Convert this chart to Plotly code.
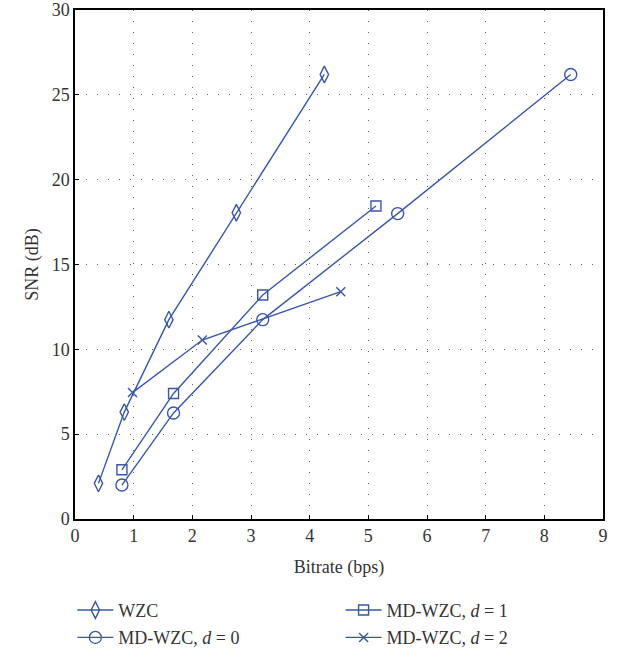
import plotly.graph_objects as go

wzc_x = [0.40, 0.84, 1.60, 2.75, 4.25]
wzc_y = [2.1, 6.3, 11.75, 18.05, 26.2]
d0_x = [0.80, 1.68, 3.20, 5.50, 8.45]
d0_y = [2.0, 6.25, 11.75, 18.0, 26.2]
d1_x = [0.80, 1.68, 3.20, 5.13]
d1_y = [2.9, 7.4, 13.2, 18.45]
d2_x = [0.98, 2.17, 4.53]
d2_y = [7.45, 10.55, 13.4]

names = ["WZC", "MD-WZC, <i>d</i> = 0", "MD-WZC, <i>d</i> = 1", "MD-WZC, <i>d</i> = 2"]
color = "#3a56a8"
FONT = "Liberation Serif"

fig = go.Figure()
series = [
    (wzc_x, wzc_y, names[0], "diamond-tall-open", 12, "legend"),
    (d0_x, d0_y, names[1], "circle-open", 12, "legend"),
    (d1_x, d1_y, names[2], "square-open", 10, "legend2"),
    (d2_x, d2_y, names[3], "x-thin-open", 9, "legend2"),
]
for i, (x, y, n, sym, sz, lg) in enumerate(series):
    fig.add_trace(go.Scatter(
        x=x, y=y, name=n, mode="lines+markers", legend=lg, legendgroup=str(i),
        line=dict(color=color, width=1.4),
        marker=dict(symbol=sym, size=sz, color=color, line=dict(color=color, width=1.4)),
    ))

axis_common = dict(
    showline=True, linecolor="black", linewidth=1.5, mirror=True,
    ticks="inside", ticklen=4, tickcolor="black",
    showgrid=True, gridcolor="#666", gridwidth=1, griddash="1px,10px",
    zeroline=False,
    tickfont=dict(family=FONT, size=18, color="#333"),
    title_font=dict(family=FONT, size=18, color="#333"),
)
fig.update_xaxes(range=[0, 9], dtick=1, title_text="Bitrate (bps)", title_standoff=15, **axis_common)
fig.update_yaxes(range=[0, 30], dtick=5, title_text="SNR (dB)", title_standoff=8, **axis_common)

legend_common = dict(
    orientation="v", xanchor="left", y=-0.143, yanchor="top",
    font=dict(family=FONT, size=18, color="#333"),
    tracegroupgap=1, itemwidth=36, bgcolor="rgba(0,0,0,0)",
)
fig.update_layout(
    width=621, height=655,
    margin=dict(l=75, r=18, t=10, b=136, autoexpand=False),
    plot_bgcolor="white", paper_bgcolor="white",
    font=dict(family=FONT, size=18, color="#333"),
    legend=dict(x=-0.005, **legend_common),
    legend2=dict(x=0.503, **legend_common),
)
fig.write_html("out.html")
